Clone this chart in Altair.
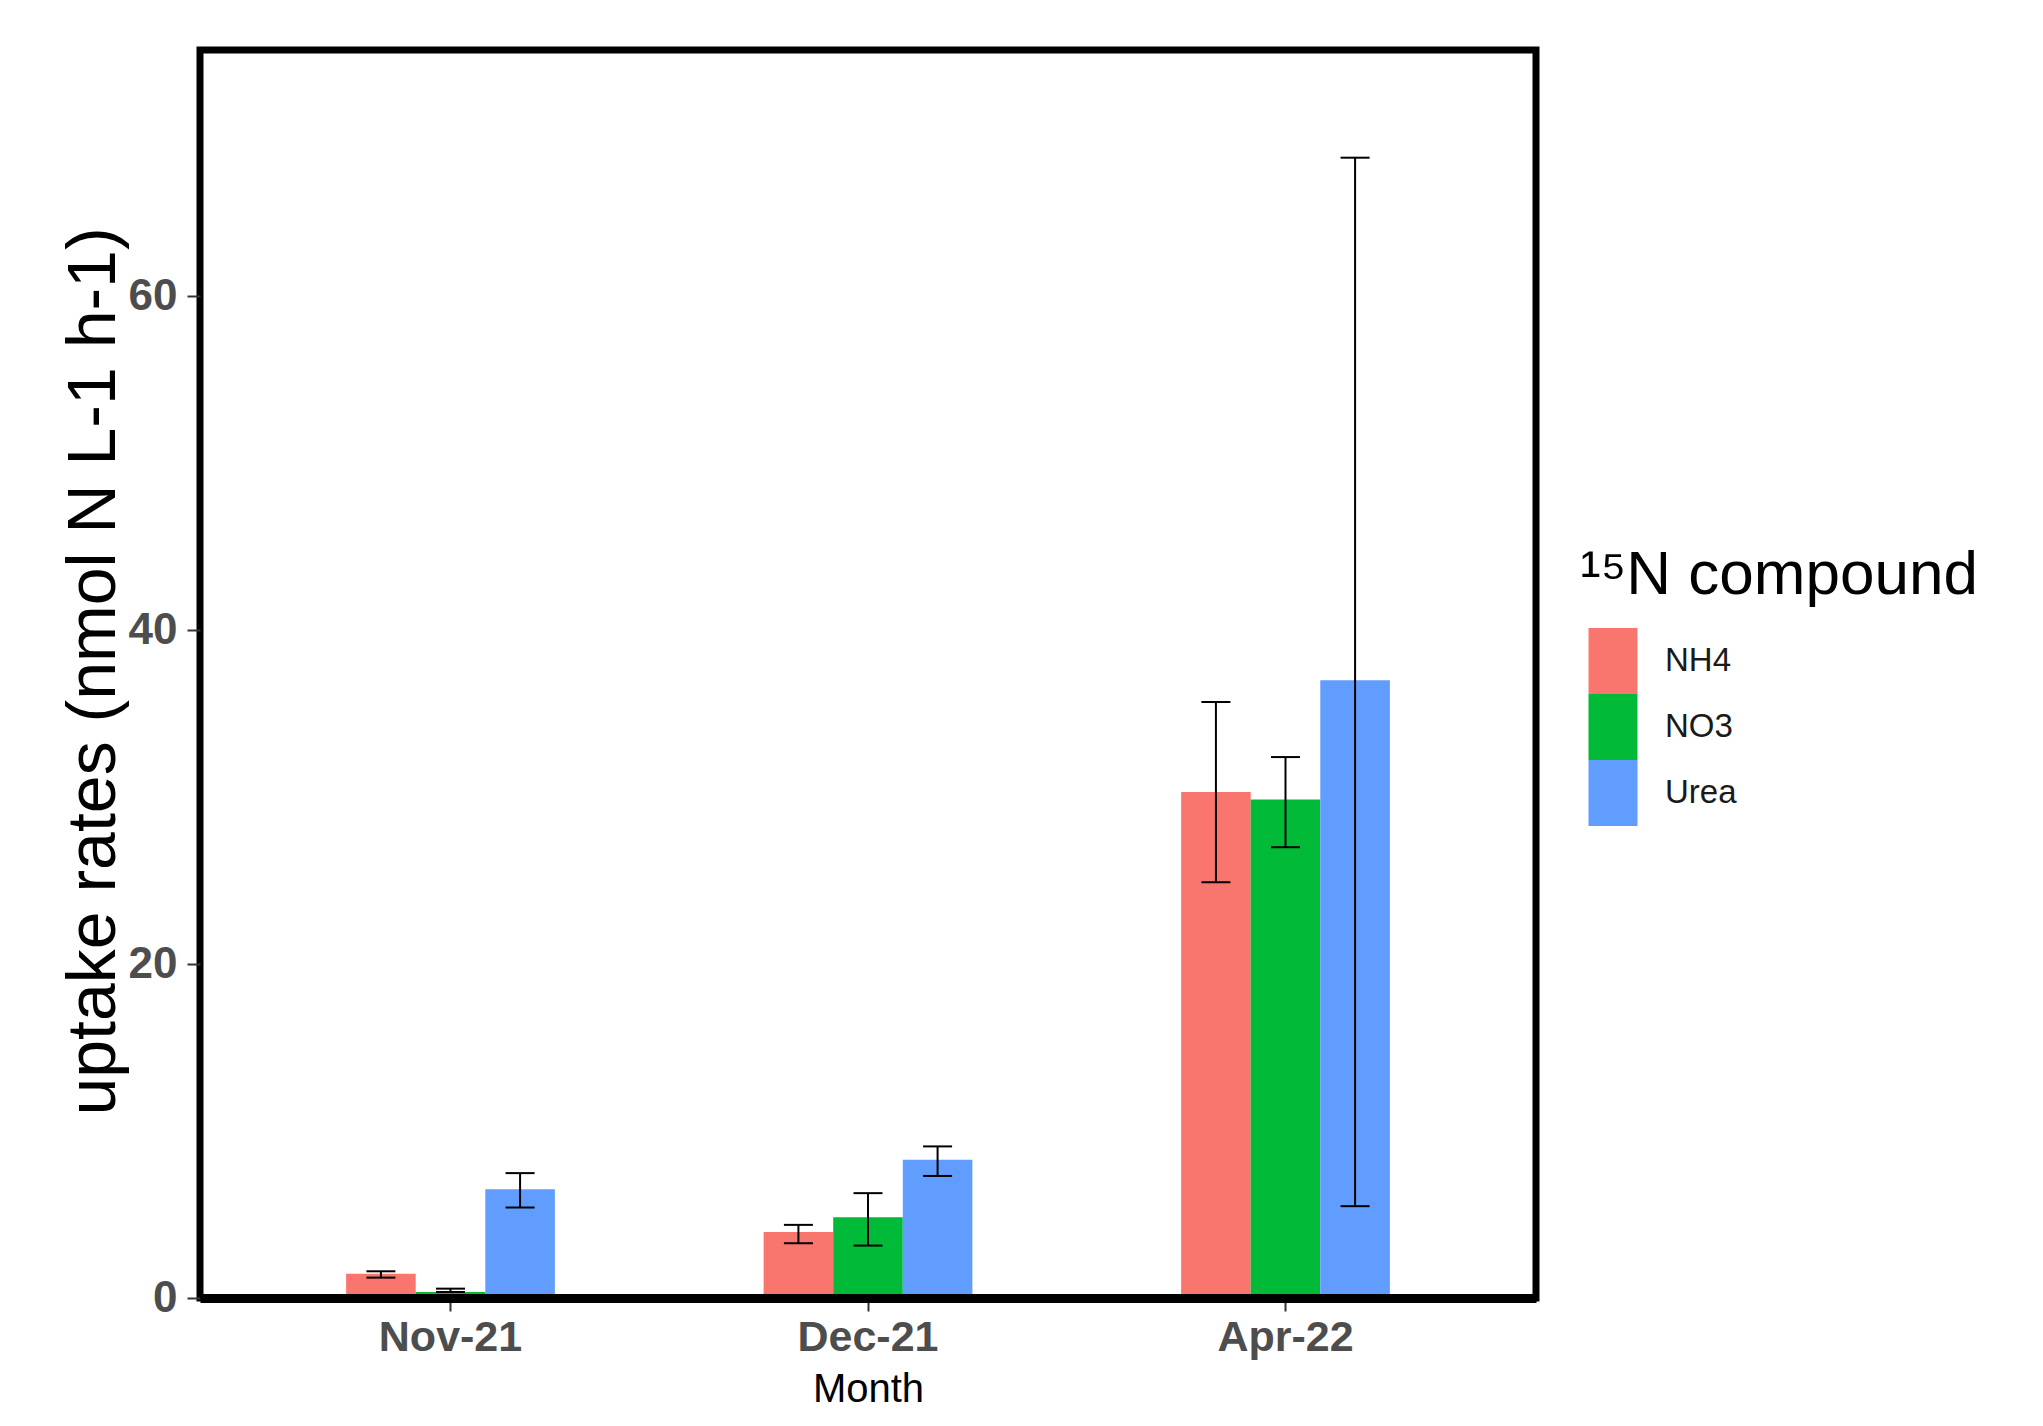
import altair as alt
import pandas as pd

# ---- data ----
months = ["Nov-21", "Dec-21", "Apr-22"]
compounds = ["NH4", "NO3", "Urea"]
colors = ["#F8766D", "#00BA38", "#619CFF"]

nh4_mean = [1.45, 3.95, 30.3]
nh4_lo = [1.22, 3.28, 24.9]
nh4_hi = [1.60, 4.38, 35.7]

no3_mean = [0.36, 4.84, 29.86]
no3_lo = [0.36, 3.14, 27.0]
no3_hi = [0.56, 6.28, 32.4]

urea_mean = [6.52, 8.28, 37.0]
urea_lo = [5.42, 7.31, 5.5]
urea_hi = [7.48, 9.08, 68.3]

y_ticks = [0, 20, 40, 60]

rows = []
for comp, means, los, his in [
    ("NH4", nh4_mean, nh4_lo, nh4_hi),
    ("NO3", no3_mean, no3_lo, no3_hi),
    ("Urea", urea_mean, urea_lo, urea_hi),
]:
    for m, v, lo, hi in zip(months, means, los, his):
        rows.append({"Month": m, "Compound": comp, "Rate": v, "Lo": lo, "Hi": hi})
df = pd.DataFrame(rows)

NARROW = "Liberation Sans Narrow, Arial Narrow, Liberation Sans"
REG = "Liberation Sans, Arial"
Y_TITLE = "uptake rates (nmol N L-1 h-1)"

x_enc = alt.X(
    "Month:N",
    sort=months,
    title="Month",
    scale=alt.Scale(paddingInner=0.5, paddingOuter=0.35),
    axis=alt.Axis(
        labelFont=NARROW,
        labelFontSize=43,
        labelFontWeight="bold",
        labelColor="#4d4d4d",
        labelAngle=0,
        labelPadding=5,
        tickColor="#333333",
        tickSize=13,
        tickWidth=2,
        domain=True,
        domainColor="black",
        domainWidth=9,
        grid=False,
        zindex=1,
        titleFont=NARROW,
        titleFontSize=40,
        titleFontWeight="normal",
        titleColor="black",
        titleBaseline="alphabetic",
        titleY=103,
    ),
)
xoff_enc = alt.XOffset(
    "Compound:N", sort=compounds, scale=alt.Scale(paddingInner=0, paddingOuter=0)
)
y_scale = alt.Scale(domain=[0, 74.75], nice=False, zero=True)

y_enc = alt.Y(
    "Rate:Q",
    title=Y_TITLE,
    scale=y_scale,
    axis=alt.Axis(
        values=y_ticks,
        labelFont=NARROW,
        labelFontSize=44,
        labelFontWeight="bold",
        labelColor="#4d4d4d",
        labelPadding=10,
        tickColor="#333333",
        tickSize=13,
        tickWidth=2,
        domain=False,
        grid=False,
        titleFont=REG,
        titleFontSize=68,
        titleFontWeight="normal",
        titleColor="black",
        titleAngle=270,
        titleBaseline="alphabetic",
        titleAlign="center",
        titleX=-86,
        titleY=621,
        titleLimit=2000,
    ),
)

base = alt.Chart(df)

bars = base.mark_bar(opacity=1).encode(
    x=x_enc,
    xOffset=xoff_enc,
    y=y_enc,
    color=alt.Color(
        "Compound:N",
        sort=compounds,
        scale=alt.Scale(domain=compounds, range=colors),
        legend=alt.Legend(
            title="¹⁵N compound",
            orient="none",
            legendX=1380,
            legendY=495,
            padding=0,
            titleFont=REG,
            titleFontSize=62,
            titleFontWeight="normal",
            titleColor="black",
            titleBaseline="top",
            titlePadding=21,
            titleLimit=2000,
            symbolType="M-0.742,-1H0.742V1H-0.742Z",
            symbolSize=4356,
            symbolStrokeWidth=0,
            symbolOpacity=1,
            rowPadding=0,
            labelFont=NARROW,
            labelFontSize=33,
            labelColor="#1a1a1a",
            labelOffset=19,
        ),
    ),
)

rules = base.mark_rule(color="black", strokeWidth=2).encode(
    x=alt.X("Month:N", sort=months, title="Month"),
    xOffset=xoff_enc,
    y=alt.Y("Lo:Q", title=Y_TITLE, scale=y_scale),
    y2="Hi:Q",
)

caps_lo = base.mark_tick(color="black", thickness=2, size=29, opacity=1).encode(
    x=alt.X("Month:N", sort=months, title="Month"),
    xOffset=xoff_enc,
    y=alt.Y("Lo:Q", title=Y_TITLE, scale=y_scale),
)

caps_hi = base.mark_tick(color="black", thickness=2, size=29, opacity=1).encode(
    x=alt.X("Month:N", sort=months, title="Month"),
    xOffset=xoff_enc,
    y=alt.Y("Hi:Q", title=Y_TITLE, scale=y_scale),
)

chart = (
    alt.layer(bars, rules, caps_lo, caps_hi)
    .properties(
        width=1336,
        height=1248,
        autosize=alt.AutoSizeParams(type="none"),
        padding={"left": 192, "top": 42, "right": 483, "bottom": 112},
        background="white",
    )
    .configure_view(stroke="black", strokeWidth=7)
)

chart.save("out.html", embed_options={"renderer": "svg", "actions": False})
